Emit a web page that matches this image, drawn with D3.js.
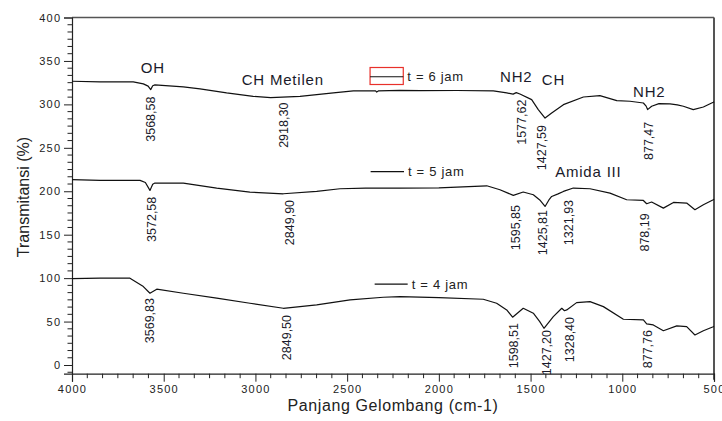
<!DOCTYPE html>
<html><head><meta charset="utf-8">
<script src="https://cdn.jsdelivr.net/npm/d3@7"></script>
<style>
html,body{margin:0;padding:0;background:#fff;}
svg{display:block;font-family:"Liberation Sans",Arial,sans-serif;}
</style></head>
<body><svg id="c" width="722" height="421"></svg>
<script>
// ---------- data ----------
const xTicks = [4000, 3500, 3000, 2500, 2000, 1500, 1000, 500];
const yTicks = [0, 50, 100, 150, 200, 250, 300, 350, 400];

const wn6 = [4000,3847,3666,3611,3585,3571,3560,3548,3393,3302,3157,3012,2917,2757,2575,2466,2345,2339,2330,2212,2100,1900,1703,1630,1595,1578,1558,1494,1458,1421,1385,1321,1212,1122,1030,958,885,870,862,840,800,740,700,667,613,558,504,500];
const t6   = [326.6,325.9,325.9,323.6,321,317,321.5,322.4,320.1,317.8,313.2,309.3,307.8,309.3,313.2,315.5,315.5,314.2,315.5,316.2,315.8,316,315.5,313.2,311.8,313.5,312,305.5,294,284.3,290,299.7,308.5,310,304.3,303.6,301.6,298,294,297.8,300.8,300.5,299.5,297.8,294,297,302.4,303];

const wn5 = [4000,3847,3629,3600,3575,3560,3548,3393,3211,3030,2848,2666,2539,2400,2212,2000,1739,1667,1594,1540,1485,1450,1421,1400,1385,1350,1321,1267,1176,1067,976,885,867,840,776,721,649,604,558,504,500];
const t5   = [213.3,212.5,212.5,210,201,208,209.4,209.4,203.7,199,197.1,199.8,202.9,203.5,203.7,204,206.3,201.7,195.2,199.1,196,190,182.5,190,194,197,199.8,203.7,202.9,197.9,190.2,189.4,185.6,187.6,180.6,187.1,186.4,178.7,184.4,190.2,191];

const wn4 = [4000,3847,3684,3611,3575,3538,3393,3211,3030,2848,2666,2484,2303,2212,2000,1758,1685,1630,1598,1540,1485,1450,1427,1376,1330,1315,1303,1249,1176,1103,994,885,867,831,776,703,649,604,558,504,500];
const t4   = [99.5,99.9,99.9,90.3,82.6,87.3,82.6,76.9,71.1,65.3,69.2,74.9,78,78.7,77.5,75.7,71.1,63.4,55,65.3,59.6,50,42.3,55.7,65.3,62.5,63.4,71.8,73,67.2,52.7,51.9,47.3,46.1,39.5,45,44.1,34.6,39.5,44.1,44.5];

const seriesNames = ["t = 6 jam", "t = 5 jam", "t = 4 jam"];

// peak labels: text, wavenumber where drawn, value at top of text
const peakText = ["3568,58","2918,30","1577,62","1427,59","877,47",
                  "3572,58","2849,90","1595,85","1425,81","1321,93","878,19",
                  "3569,83","2849,50","1598,51","1427,20","1328,40","877,76"];
const peakAt   = [3569,2849,1548,1439,854,
                  3565,2815,1581,1434,1294,876,
                  3575,2829,1590,1412,1285,861];
const peakTop  = [309,302,305.5,276.3,280,
                  193.7,190,184.2,178.4,190,174.6,
                  77.1,57.6,48.3,40.3,55.3,40.3];

// group labels: text, wavenumber (left edge), value (baseline)
const groupText = ["OH","CH Metilen","NH2","CH","NH2","Amida III"];
const groupAt   = [3625,3075,1666,1439,941,1366];
const groupVal  = [335.8,322,325.5,322.3,308,216];

// ---------- chart ----------
const svg = d3.select("#c");
const x = d3.scaleLinear().domain([4000, 500]).range([72, 714]);
const y = d3.scaleLinear().domain([-10, 400]).range([373.7, 17.5]);

// frame top/right
svg.append("line").attr("x1",72).attr("x2",714).attr("y1",y(400)).attr("y2",y(400))
  .attr("stroke","#555").attr("stroke-width",1.5);
svg.append("line").attr("x1",714).attr("x2",714).attr("y1",y(400)).attr("y2",y(-10)+6)
  .attr("stroke","#555").attr("stroke-width",2);

// minor ticks
const xMinor = d3.range(0, 43).map(i => 4000 - i*500/6).filter(v => v >= 500 && Math.abs(v/500 - Math.round(v/500)) > 1e-6);
const yMinor = d3.range(-1, 49).map(i => i*50/6).filter(v => v >= -10 && v <= 400 && Math.abs(v/50 - Math.round(v/50)) > 1e-6);

const gx = svg.append("g").attr("transform", `translate(0,${y(-10)})`);
gx.call(d3.axisBottom(x).tickValues(xTicks).tickFormat(d3.format("d")).tickSize(8).tickPadding(4));
gx.append("g").selectAll("line").data(xMinor).join("line")
  .attr("x1", d=>x(d)).attr("x2", d=>x(d)).attr("y1",0).attr("y2",4.5).attr("stroke","#222");

const gy = svg.append("g").attr("transform", `translate(72,0)`);
gy.call(d3.axisLeft(y).tickValues(yTicks).tickFormat(d3.format("d")).tickSize(8).tickPadding(4));
gy.append("g").selectAll("line").data(yMinor).join("line")
  .attr("y1", d=>y(d)).attr("y2", d=>y(d)).attr("x1",0).attr("x2",-4.5).attr("stroke","#222");

[gx, gy].forEach(g => {
  g.select(".domain").attr("stroke","#222").attr("stroke-width",1.2);
  g.selectAll(".tick line").attr("stroke","#222");
  g.selectAll(".tick text").attr("font-size",11).attr("fill","#222")
    .attr("font-family",'"Liberation Sans",Arial,sans-serif').style("letter-spacing","1.2px");
});
gy.selectAll(".tick text").attr("dx", 1.2);

// axis titles
svg.append("text").attr("x",393).attr("y",410.5).attr("text-anchor","middle")
  .attr("font-size",16).attr("fill","#222").style("letter-spacing","0.6px")
  .text("Panjang Gelombang (cm-1)");
svg.append("text").attr("transform","translate(29,197) rotate(-90)").attr("text-anchor","middle")
  .attr("font-size",16).attr("fill","#222").text("Transmitansi (%)");

// spectra
const line = d3.line().x(d=>x(d[0])).y(d=>y(d[1]));
const series = [d3.zip(wn6,t6), d3.zip(wn5,t5), d3.zip(wn4,t4)];
svg.append("g").selectAll("path").data(series).join("path")
  .attr("d", line).attr("fill","none").attr("stroke","#111").attr("stroke-width",1.2)
  .attr("stroke-linejoin","round");

// legend entries
const legY = [331.8, 222.5, 93.2];
const legX0 = [2375, 2372, 2350];
const legX1 = [2194, 2190, 2170];
const lg = svg.append("g");
lg.append("rect").attr("x",x(legX0[0])).attr("y",67.5).attr("width",x(legX1[0])-x(legX0[0])).attr("height",17)
  .attr("fill","none").attr("stroke","#e8302a").attr("stroke-width",1.2);
seriesNames.forEach((n,i)=>{
  lg.append("line").attr("x1",x(legX0[i])).attr("x2",x(legX1[i])).attr("y1",y(legY[i])).attr("y2",y(legY[i]))
    .attr("stroke","#111").attr("stroke-width",1.2);
  lg.append("text").attr("x",x(legX1[i])+4).attr("y",y(legY[i])+4.5).attr("font-size",13)
    .attr("fill","#222").style("letter-spacing","0.7px").text(n);
});

// group labels
svg.append("g").selectAll("text").data(d3.range(groupText.length)).join("text")
  .attr("x", i=>x(groupAt[i])).attr("y", i=>y(groupVal[i])).attr("font-size",15)
  .attr("fill","#1a1a2a").style("letter-spacing","0.8px").text(i=>groupText[i]);

// peak labels (vertical)
svg.append("g").selectAll("text").data(d3.range(peakText.length)).join("text")
  .attr("transform", i=>`translate(${x(peakAt[i])},${y(peakTop[i])}) rotate(-90)`)
  .attr("text-anchor","end").attr("dy","0.35em").attr("font-size",12.5)
  .attr("fill","#1a1a2a").text(i=>peakText[i]);
</script>
</body></html>
